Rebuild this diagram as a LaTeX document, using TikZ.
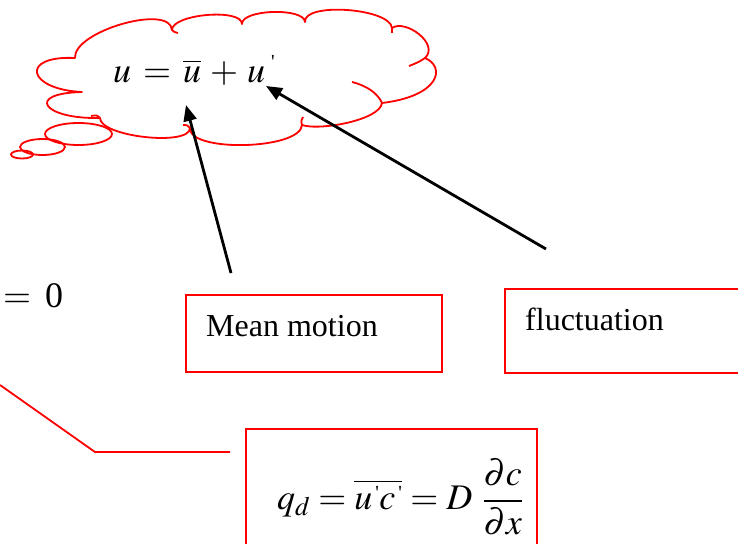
\documentclass[tikz,border=0pt]{standalone}
\usepackage{mathptmx}
\usepackage[no-math]{fontspec}
\setmainfont{Liberation Serif}
\usetikzlibrary{arrows.meta}
\newcommand{\tick}{\mbox{\fontsize{20}{20}\selectfont\textquotesingle}}
\begin{document}
\begin{tikzpicture}[x=1pt,y=-1pt,
  redline/.style={draw=red, line width=1.8pt},
  redbox/.style={draw=red, line width=2pt, anchor=north west, inner sep=0pt},
  cloudline/.style={draw=red, line width=1.8pt, line join=round},
  pointer/.style={draw=black, line width=2.8pt, -{Triangle[length=16pt,width=13pt]}},
  txt/.style={font=\fontsize{32}{38}\selectfont, inner sep=0pt, anchor=base west},
  formula/.style={font=\fontsize{36}{42}\selectfont, inner sep=0pt}
]
\useasboundingbox (0,0) rectangle (738,543);

% cloud
\draw[cloudline] (82,92) .. controls (26.7,89.3) and (19.7,55.3) .. (75,58)
 .. controls (73,31.3) and (170,3.3) .. (172,30)
 .. controls (172,14) and (242,8) .. (242,24)
 .. controls (241.3,9.3) and (304.3,7.3) .. (305,22)
 .. controls (303,2) and (390,8) .. (392,28)
 .. controls (405.3,18.7) and (440,44) .. (425,58)
 .. controls (446,67) and (440,96) .. (382,103)
 .. controls (380,120) and (320,131) .. (302,125)
 .. controls (300.7,149.7) and (188.7,152.7) .. (190,128)
 .. controls (190,146.7) and (100,136.7) .. (100,118)
 .. controls (42.7,119.3) and (24.7,93.3) .. cycle;
% cloud tails
\draw[cloudline] (352,82) .. controls (368,86) and (378,94) .. (382,103);
\draw[cloudline] (425,58) .. controls (419,62) .. (409,66);
\draw[cloudline] (172,30) .. controls (174,32) .. (178,33);
\draw[cloudline] (190,128) .. controls (187,125) .. (183,125);
\draw[cloudline] (100,118) .. controls (97,115) .. (91,116);
\draw[cloudline] (302,125) .. controls (301,121) .. (303,117);
\draw[cloudline] (392,28) -- (392,33);
% thought bubbles
\draw[cloudline] (78.5,134) ellipse [x radius=33.5pt, y radius=11pt];
\draw[cloudline] (42.5,147) ellipse [x radius=22.5pt, y radius=8pt];
\draw[cloudline] (22,154.5) ellipse [x radius=11pt, y radius=4pt];

% formula in cloud
\node[formula, anchor=base west] (uform) at (113,82) {$u\mskip2mu=\mskip2mu\overline{u}\mskip2mu+\mskip2mu u^{\;\tick}$};

% pointers
\coordinate (a1s) at (231,273);
\coordinate (a1e) at (186,105);
\coordinate (a2s) at (546,249);
\coordinate (a2e) at (266,86);
\draw[pointer] (a1s) -- (a1e);
\draw[pointer] (a2s) -- (a2e);

% = 0
\node[formula, anchor=base west] (eqzero) at (3,307) {$=$\hspace{14pt}0};

% boxes
\node[redbox, minimum width=256pt, minimum height=77pt] (meanbox) at (185,294) {};
\node[txt] (meantxt) at (206,336) {Mean motion};
\node[redbox, minimum width=250pt, minimum height=84pt] (flucbox) at (504,288) {};
\node[txt] (fluctxt) at (525,330) {fluctuation};
\node[redbox, minimum width=291pt, minimum height=130pt] (qbox) at (245,428) {};
\node[formula, anchor=west] (qform) at (277,497)
  {$\displaystyle q_{d}=\overline{u^{\,\tick}c^{\,\tick}}=D\mskip5mu\frac{\partial c}{\partial x}$};

% red connector line
\coordinate (l0) at (0,385);
\coordinate (l1) at (95,452);
\coordinate (l2) at (230,452);
\draw[redline] (l0) -- (l1) -- (l2);
\end{tikzpicture}
\end{document}
